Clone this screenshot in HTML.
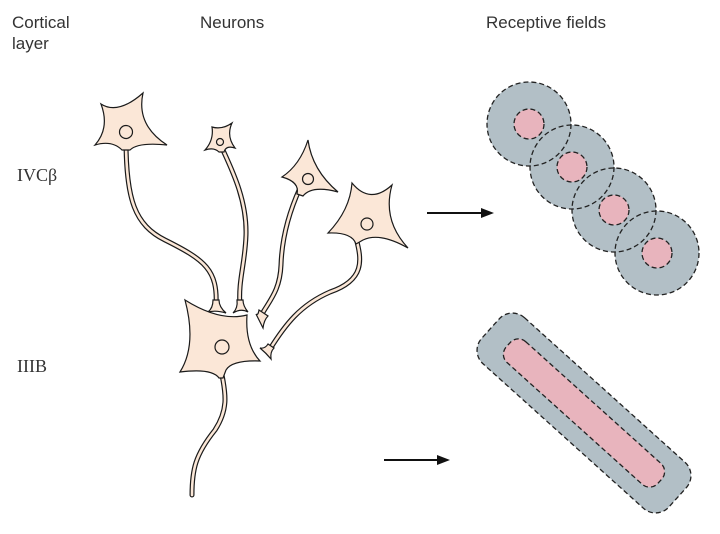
<!DOCTYPE html>
<html><head><meta charset="utf-8"><style>
html,body{margin:0;padding:0;background:#fff;width:720px;height:534px;overflow:hidden}
svg{display:block}
.l{font-family:"Liberation Sans",sans-serif;font-size:17px;fill:#333}
.s{font-family:"Liberation Serif",serif;font-size:18px;fill:#333}
.ax{fill:none;stroke:#1a1a1a;stroke-width:5;stroke-linecap:round}
.ai{fill:none;stroke:#fbe7d7;stroke-width:2.6;stroke-linecap:round}
.b{fill:#fbe7d7;stroke:#1a1a1a;stroke-width:1.2}
.n{fill:none;stroke:#1a1a1a;stroke-width:1.2}
.d{fill:none;stroke:#222;stroke-width:1.3;stroke-dasharray:5 3}
</style></head><body>
<svg width="720" height="534" viewBox="0 0 720 534" xmlns="http://www.w3.org/2000/svg">
<text class="l" x="12" y="28">Cortical</text>
<text class="l" x="12" y="49">layer</text>
<text class="l" x="200" y="28">Neurons</text>
<text class="l" x="486" y="28">Receptive fields</text>
<text class="s" x="17" y="181">IVCβ</text>
<text class="s" x="17" y="372">IIIB</text>

<!-- axons -->
<g>
<path class="ax" d="M126,140 C126,200 135,225 165,240 C205,260 218,270 216,306"/>
<path class="ax" d="M222,148 C232,170 247,200 246,235 C245,265 238,280 240,306"/>
<path class="ax" d="M300,188 C290,210 282,235 281,265 C280,290 270,300 262,314"/>
<path class="ax" d="M356,238 C362,260 365,280 330,292 C300,305 285,325 270,349"/>
<path class="ax" d="M222,375 C226,395 228,410 215,430 C195,455 192,470 192,495"/>
<path class="ai" d="M126,140 C126,200 135,225 165,240 C205,260 218,270 216,306"/>
<path class="ai" d="M222,148 C232,170 247,200 246,235 C245,265 238,280 240,306"/>
<path class="ai" d="M300,188 C290,210 282,235 281,265 C280,290 270,300 262,314"/>
<path class="ai" d="M356,238 C362,260 365,280 330,292 C300,305 285,325 270,349"/>
<path class="ai" d="M222,375 C226,395 228,410 215,430 C195,455 192,470 192,495"/>
</g>
<!-- terminals -->
<path class="b" d="M213,300 Q213,308 208,312 Q216,310 226,313 Q219,307 219,300 Z"/>
<path class="b" d="M237,300 Q238,308 233,313 Q241,308 248,312 Q243,306 243,300 Z"/>
<path class="b" d="M259,310 Q258,316 256,314 Q259,320 263,328 Q264,320 268,316 Z"/>
<path class="b" d="M268,344 Q265,349 260,348 Q266,353 271,359 Q270,352 274,348 Z"/>

<!-- bodies -->
<path class="b" d="M101,104 Q118,115 143,93 Q136,125 167,145 Q138,142 130,150 L122,150 Q112,140 95,145 Q110,128 101,104 Z"/>
<circle class="n" cx="126" cy="132" r="6.5"/>
<path class="b" d="M212,127 Q222,130 232,123 Q226,136 235,148 Q226,145 224,152 L219,152 Q214,147 205,150 Q214,140 212,127 Z"/>
<circle class="n" cx="220" cy="142" r="3.5"/>
<path class="b" d="M308,140 Q312,170 338,192 Q312,185 303,196 L297,194 Q300,182 282,177 Q300,165 308,140 Z"/>
<circle class="n" cx="308" cy="179" r="5.5"/>
<path class="b" d="M352,183 Q370,205 392,185 Q382,220 408,248 Q380,232 363,240 L356,244 Q352,232 328,233 Q350,210 352,183 Z"/>
<circle class="n" cx="367" cy="224" r="6"/>
<path class="b" d="M185,300 Q220,322 247,315 Q245,345 260,361 Q232,360 226,370 L223,378 L219,378 Q212,368 180,372 Q197,345 185,300 Z"/>
<circle class="n" cx="222" cy="347" r="7"/>

<!-- arrows -->
<line x1="427" y1="213" x2="484" y2="213" stroke="#111" stroke-width="2"/>
<path d="M494,213 L481,208 L481,218 Z" fill="#111"/>
<line x1="384" y1="460" x2="440" y2="460" stroke="#111" stroke-width="2"/>
<path d="M450,460 L437,455 L437,465 Z" fill="#111"/>

<!-- receptive fields -->
<g fill="#b2bfc6">
<circle cx="529" cy="124" r="42"/><circle cx="572" cy="167" r="42"/><circle cx="614" cy="210" r="42"/><circle cx="657" cy="253" r="42"/>
</g>
<g fill="#e8b4bd">
<circle cx="529" cy="124" r="15"/><circle cx="572" cy="167" r="15"/><circle cx="614" cy="210" r="15"/><circle cx="657" cy="253" r="15"/>
</g>
<g class="d">
<circle cx="529" cy="124" r="42"/><circle cx="572" cy="167" r="42"/><circle cx="614" cy="210" r="42"/><circle cx="657" cy="253" r="42"/>
<circle cx="529" cy="124" r="15"/><circle cx="572" cy="167" r="15"/><circle cx="614" cy="210" r="15"/><circle cx="657" cy="253" r="15"/>
</g>
<g transform="translate(584,413) rotate(42)">
<rect x="-126" y="-31" width="252" height="62" rx="18" fill="#b2bfc6"/>
<rect x="-102" y="-14" width="204" height="28" rx="11" fill="#e8b4bd"/>
<rect class="d" x="-126" y="-31" width="252" height="62" rx="18"/>
<rect class="d" x="-102" y="-14" width="204" height="28" rx="11"/>
</g>
</svg>
</body></html>
